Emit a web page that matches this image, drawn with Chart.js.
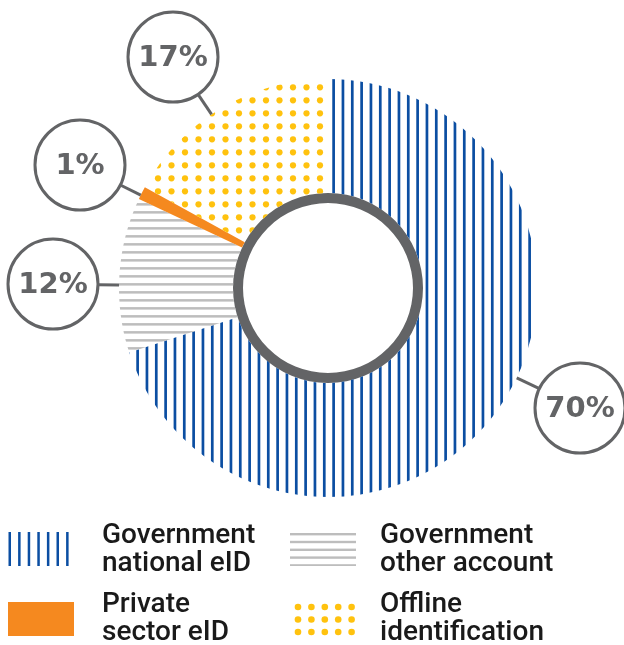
<!DOCTYPE html>
<html>
<head>
<meta charset="utf-8">
<script src="https://cdn.jsdelivr.net/npm/chart.js@4"></script>
<style>
    body { margin: 0; background: #fff; }
    #wrap { position: relative; width: 624px; height: 645px; overflow: hidden; }
    #chart { position: absolute; left: 0; top: 0; }
    .swatch { position: absolute; }
    .label {
        position: absolute;
        font-family: Roboto, sans-serif;
        font-weight: 500;
        font-size: 28px;
        line-height: 28px;
        color: #1a1a1a;
        white-space: nowrap;
    }
</style>
</head>
<body>
<div id="wrap">
    <canvas id="chart" width="624" height="645"></canvas>
</div>
<script>
const categories = ["Government national eID", "Government other account", "Private sector eID", "Offline identification"];
const shares = [70, 12, 1, 17];
const legendLines = [["Government", "national eID"], ["Government", "other account"], ["Private", "sector eID"], ["Offline", "identification"]];

const BLUE = "#0b4ea2";
const GREY = "#bdbdbd";
const ORANGE = "#f5891f";
const YELLOW = "#ffc20e";
const DARK = "#636466";

function makeTile(w, h, paint) {
    const c = document.createElement("canvas");
    c.width = w;
    c.height = h;
    paint(c.getContext("2d"));
    return c;
}

document.addEventListener("DOMContentLoaded", () => {
    const ctx = document.getElementById("chart").getContext("2d");

    // fills for the slices
    const blueTile = makeTile(28, 4, g => {
        g.fillStyle = BLUE;
        [5.6, 14.93, 24.27].forEach(x => g.fillRect(x, 0, 2.7, 4));
    });
    const greyTile = makeTile(4, 8, g => {
        g.fillStyle = GREY;
        g.fillRect(0, 3.1, 4, 2.5);
    });
    const dotTile = makeTile(27, 26, g => {
        g.fillStyle = YELLOW;
        [[9.5, 9.3], [23, 9.3], [9.5, 22.3], [23, 22.3]].forEach(([x, y]) => {
            g.beginPath();
            g.arc(x, y, 3.1, 0, Math.PI * 2);
            g.fill();
        });
    });

    const fills = [
        ctx.createPattern(blueTile, "repeat"),
        ctx.createPattern(greyTile, "repeat"),
        ORANGE,
        ctx.createPattern(dotTile, "repeat")
    ];

    // where the percentage bubbles sit
    const bubbles = [[580, 408], [53, 284], [80, 165], [173, 57]];

    const calloutPlugin = {
        id: "callouts",
        afterDraw(chart) {
            const c = chart.ctx;
            const arcs = chart.getDatasetMeta(0).data;
            if (!arcs.length) return;
            const cx = arcs[0].x, cy = arcs[0].y, outer = arcs[0].outerRadius;
            const r = 45;
            c.save();
            c.strokeStyle = DARK;
            c.lineWidth = 3;
            shares.forEach((v, i) => {
                const [bx, by] = bubbles[i];
                const dx = cx - bx, dy = cy - by;
                const len = Math.hypot(dx, dy);
                const ux = dx / len, uy = dy / len;
                const reach = len - outer;
                c.beginPath();
                c.moveTo(bx + ux * r, by + uy * r);
                c.lineTo(bx + ux * reach, by + uy * reach);
                c.stroke();

                c.beginPath();
                c.arc(bx, by, r, 0, Math.PI * 2);
                c.fillStyle = "#fff";
                c.fill();
                c.stroke();

                c.fillStyle = DARK;
                c.font = "bold 29px 'DejaVu Sans', sans-serif";
                c.textAlign = "center";
                c.textBaseline = "middle";
                c.fillText(v + "%", bx, by + 1);
            });
            c.restore();
        }
    };

    new Chart(ctx, {
        type: "doughnut",
        data: {
            labels: categories,
            datasets: [
                {
                    data: shares,
                    backgroundColor: fills,
                    borderWidth: 0,
                    weight: 114
                },
                {
                    data: [1],
                    backgroundColor: DARK,
                    borderWidth: 0,
                    weight: 10
                }
            ]
        },
        options: {
            responsive: false,
            animation: false,
            devicePixelRatio: 1,
            cutout: 85,
            layout: { padding: { left: 119, right: 87, top: 79, bottom: 148 } },
            plugins: {
                legend: { display: false },
                tooltip: { enabled: false }
            },
            events: []
        },
        plugins: [calloutPlugin]
    });

    // legend, two columns
    const wrap = document.getElementById("wrap");
    const swatchPainters = [
        g => {
            g.fillStyle = BLUE;
            for (let i = 0; i < 7; i++) g.fillRect(0.5 + i * 9.6, 0, 2.5, 34);
        },
        g => {
            g.fillStyle = GREY;
            for (let i = 0; i < 5; i++) g.fillRect(0, 1 + i * 7.8, 66, 2.4);
        },
        g => {
            g.fillStyle = ORANGE;
            g.fillRect(0, 0, 66, 34);
        },
        g => {
            g.fillStyle = YELLOW;
            for (let row = 0; row < 3; row++) {
                for (let col = 0; col < 5; col++) {
                    g.beginPath();
                    g.arc(4 + col * 13.4, 4 + row * 12.5, 3.3, 0, Math.PI * 2);
                    g.fill();
                }
            }
        }
    ];
    const swatchPos = [[8, 532, 66, 34], [290, 532, 66, 34], [8, 602, 66, 34], [294, 603, 66, 34]];
    const textPos = [[102, 520], [380, 520], [102, 589], [380, 589]];

    categories.forEach((name, i) => {
        const [sx, sy, sw, sh] = swatchPos[i];
        const sw_c = document.createElement("canvas");
        sw_c.width = sw;
        sw_c.height = sh;
        sw_c.className = "swatch";
        sw_c.style.left = sx + "px";
        sw_c.style.top = sy + "px";
        swatchPainters[i](sw_c.getContext("2d"));
        wrap.appendChild(sw_c);

        const div = document.createElement("div");
        div.className = "label";
        div.style.left = textPos[i][0] + "px";
        div.style.top = textPos[i][1] + "px";
        div.innerHTML = legendLines[i].join("<br>");
        wrap.appendChild(div);
    });
});
</script>
</body>
</html>
